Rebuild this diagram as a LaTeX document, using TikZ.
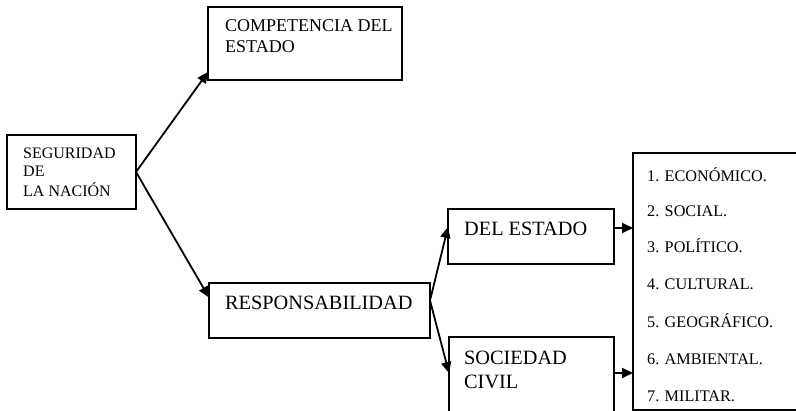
\documentclass[tikz,border=0pt]{standalone}
\usepackage{fontspec}
\setmainfont{Liberation Serif}
\usetikzlibrary{arrows.meta,calc}
\begin{document}
\begin{tikzpicture}[x=1pt,y=-1pt,
  box/.style={draw,line width=1.6pt,inner sep=0pt,outer sep=0pt},
  arr/.style={line width=1.8pt,-{Triangle[length=11pt,width=10pt]}},
  lbl/.style={anchor=base west,inner sep=0pt},
  item/.style={anchor=base west,inner sep=0pt,font=\fontsize{16.2}{19}\selectfont}]
\useasboundingbox (0,0) rectangle (796,411);
% boxes
\node[box,minimum width=129pt,minimum height=74pt] (seg) at (71.5,172) {};
\node[box,minimum width=194pt,minimum height=73pt] (comp) at (305,43.5) {};
\node[box,minimum width=221pt,minimum height=55pt] (resp) at (319.5,310.5) {};
\node[box,minimum width=166pt,minimum height=55pt] (del) at (531,236.5) {};
\node[box,minimum width=165pt,minimum height=83pt] (soc) at (531.5,378.5) {};
\node[box,minimum width=177pt,minimum height=257pt] (list) at (721.5,281.5) {};
% texts
\node[lbl,font=\fontsize{16}{19}\selectfont] (t1a) at (23,159) {SEGURIDAD};
\node[lbl,font=\fontsize{16}{19}\selectfont] (t1b) at (23,177) {DE};
\node[lbl,font=\fontsize{16}{19}\selectfont] (t1c) at (23,197) {LA NACIÓN};
\node[lbl,font=\fontsize{18}{21}\selectfont] (t2a) at (225,32) {COMPETENCIA DEL};
\node[lbl,font=\fontsize{18}{21}\selectfont] (t2b) at (225,53) {ESTADO};
\node[lbl,font=\fontsize{20.3}{24}\selectfont] (t3) at (225,310) {RESPONSABILIDAD};
\node[lbl,font=\fontsize{20.3}{24}\selectfont] (t4) at (464,236) {DEL ESTADO};
\node[lbl,font=\fontsize{20.3}{24}\selectfont] (t5a) at (464,365) {SOCIEDAD};
\node[lbl,font=\fontsize{20.3}{24}\selectfont] (t5b) at (464,389) {CIVIL};
\node[item] (i1) at (647,182) {1. ECONÓMICO.};
\node[item] (i2) at (647,217) {2. SOCIAL.};
\node[item] (i3) at (647,253) {3. POLÍTICO.};
\node[item] (i4) at (647,290) {4. CULTURAL.};
\node[item] (i5) at (647,328) {5. GEOGRÁFICO.};
\node[item] (i6) at (647,365) {6. AMBIENTAL.};
\node[item] (i7) at (647,402) {7. MILITAR.};
% connectors
\draw[arr] (seg.east) -- ([yshift=8pt]comp.south west);
\draw[arr] (seg.east) -- ([yshift=13pt]resp.west);
\coordinate (r0) at ([yshift=10pt]resp.east);
\draw[arr] (r0) -- ([yshift=9.5pt]del.west);
\draw[arr] (r0) -- ([yshift=5.5pt]soc.west);
\coordinate (d1) at ([yshift=8.5pt]del.east);
\draw[arr] (d1) -- (d1 -| list.west);
\coordinate (s1) at ([yshift=5.5pt]soc.east);
\draw[arr] (s1) -- (s1 -| list.west);
\end{tikzpicture}
\end{document}
